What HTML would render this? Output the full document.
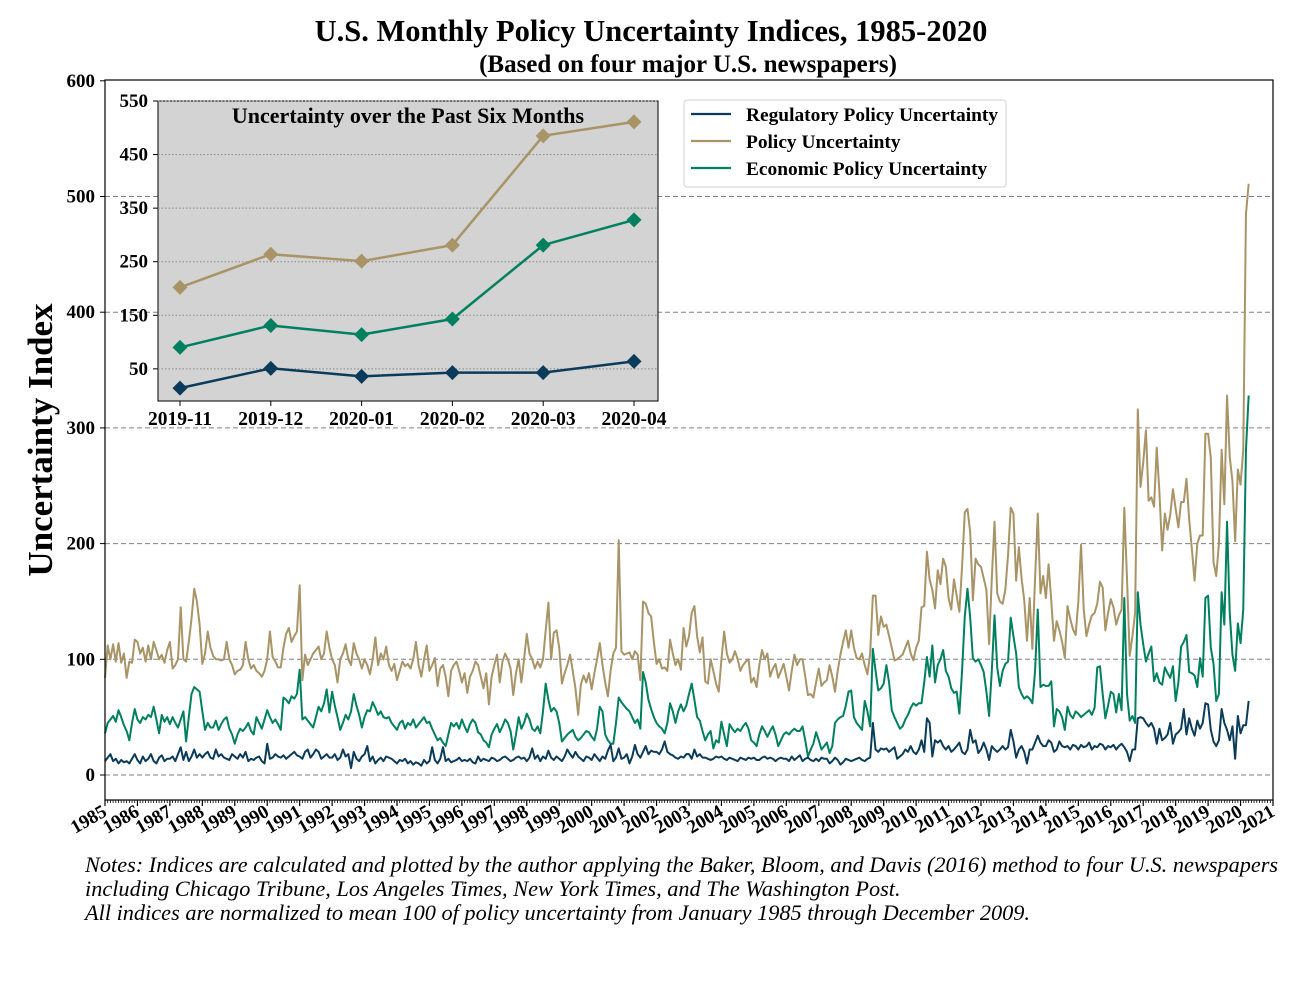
<!DOCTYPE html>
<html><head><meta charset="utf-8"><style>
html,body{margin:0;padding:0;background:#fff;}
svg{display:block;font-family:"Liberation Serif",serif;}
</style></head><body>
<svg id="chart" width="1300" height="1000" viewBox="0 0 1300 1000">
<text x="651" y="41" text-anchor="middle" font-size="30.5" font-weight="bold">U.S. Monthly Policy Uncertainty Indices, 1985-2020</text>
<text x="688" y="72" text-anchor="middle" font-size="25" font-weight="bold">(Based on four major U.S. newspapers)</text>
<g id="main"></g>
<text transform="translate(52,440) rotate(-90)" text-anchor="middle" font-size="35" font-weight="bold">Uncertainty Index</text>
<g id="inset"></g>
<g>
<rect x="684" y="100" width="322" height="87" rx="3" fill="#fff" stroke="#d0d0d0" stroke-width="1"/>
<line x1="691" y1="114" x2="731" y2="114" stroke="#0b3b5a" stroke-width="2.2"/>
<text x="746" y="121" font-size="19.4" font-weight="bold">Regulatory Policy Uncertainty</text>
<line x1="691" y1="141" x2="731" y2="141" stroke="#a89467" stroke-width="2.2"/>
<text x="746" y="148" font-size="19.4" font-weight="bold">Policy Uncertainty</text>
<line x1="691" y1="168" x2="731" y2="168" stroke="#00805f" stroke-width="2.2"/>
<text x="746" y="175" font-size="19.4" font-weight="bold">Economic Policy Uncertainty</text>
</g>
<g font-size="22.3" font-style="italic">
<text x="85" y="872">Notes: Indices are calculated and plotted by the author applying the Baker, Bloom, and Davis (2016) method to four U.S. newspapers</text>
<text x="85" y="896">including Chicago Tribune, Los Angeles Times, New York Times, and The Washington Post.</text>
<text x="85" y="920">All indices are normalized to mean 100 of policy uncertainty from January 1985 through December 2009.</text>
</g>
</svg>
<script>
const policyVals = [
84,112,100,113,98,114,97,105,84,98,97,117,
115,105,110,98,112,100,115,108,100,104,97,108,
115,92,95,100,145,100,98,115,135,161,150,130,
96,105,124,110,103,100,100,99,100,115,100,95,
87,90,91,95,115,100,92,95,90,88,85,90,
100,124,102,98,93,93,110,122,127,115,120,124,
164,82,104,95,100,105,108,111,100,105,124,110,
100,95,80,100,105,113,100,95,114,105,100,92,
100,95,87,100,119,95,105,100,111,95,90,96,
82,90,98,94,96,92,100,115,95,85,100,112,
90,95,101,77,92,95,85,68,90,95,98,90,
80,88,71,85,90,98,95,85,75,88,61,85,
95,104,80,98,105,100,92,69,88,100,80,100,
122,105,100,92,98,93,100,125,149,100,123,125,
110,79,88,95,104,90,75,52,78,86,80,88,
74,88,100,114,95,80,68,90,105,110,203,107,
104,105,106,100,107,104,82,150,148,140,137,115,
96,100,92,93,90,117,105,95,100,91,127,111,
120,140,146,120,106,119,81,79,100,90,79,72,
100,124,105,97,100,107,100,90,95,98,100,80,
84,76,95,108,100,105,85,92,96,84,90,96,
85,73,90,104,95,100,100,85,69,70,67,80,
92,77,80,82,95,85,72,90,104,115,125,110,
125,110,101,100,105,95,87,105,155,155,121,137,
128,130,120,110,99,100,102,104,110,116,105,99,
110,116,145,146,193,169,160,144,177,165,187,180,
153,143,169,155,141,180,227,230,210,151,187,182,
180,170,160,113,170,219,157,150,148,160,190,231,
226,168,197,170,151,116,153,109,170,226,157,172,
153,182,150,116,133,125,115,101,146,135,126,121,
150,199,143,120,130,138,140,148,167,162,125,140,
152,145,130,138,143,231,170,103,120,140,316,249,
270,298,237,240,232,283,244,194,226,212,225,247,
230,214,236,236,256,221,195,168,200,207,207,295,
295,274,184,172,200,281,234,328,275,254,202,264,
251,281,485,511];
const economicVals = [
36,45,48,51,46,56,50,43,38,30,45,57,
48,45,50,48,52,50,59,48,36,52,46,50,
44,50,45,41,48,55,29,50,70,76,74,72,
55,39,45,41,41,47,39,44,48,50,40,35,
27,35,40,38,41,45,38,35,50,45,40,48,
56,50,45,48,44,39,67,65,62,68,66,70,
91,48,50,47,44,41,50,59,55,62,74,54,
72,60,50,39,45,52,48,55,70,60,52,41,
50,56,55,63,58,52,55,50,49,50,45,42,
39,45,47,40,45,43,48,41,44,47,50,45,
46,40,35,30,32,28,25,35,45,42,45,40,
48,42,37,44,48,45,37,35,30,28,24,35,
40,44,37,42,48,45,38,22,35,50,40,45,
53,48,40,38,42,36,55,79,65,55,58,55,
45,29,32,35,37,39,33,30,32,35,38,37,
33,30,40,59,55,35,30,27,27,45,67,63,
60,57,55,50,45,48,40,89,80,65,57,50,
45,42,40,36,45,62,55,45,55,61,55,60,
70,79,65,50,47,38,30,35,38,23,30,28,
46,35,25,44,40,37,40,38,42,45,40,30,
28,25,35,42,38,33,38,42,35,25,30,35,
37,35,38,40,38,38,42,30,16,22,27,37,
30,22,25,28,19,25,45,48,50,51,60,72,
73,50,45,42,39,64,55,42,109,90,73,75,
79,95,80,56,50,45,40,42,48,52,58,62,
60,62,62,80,102,85,112,80,95,100,108,90,
85,75,71,72,53,90,137,161,136,101,98,100,
95,89,72,51,90,138,93,77,90,96,98,136,
120,105,76,70,66,68,66,62,90,143,76,78,
77,77,81,42,57,55,50,39,59,52,49,55,
53,50,52,54,56,52,58,93,94,70,49,60,
72,70,54,70,56,153,70,47,51,45,158,130,
113,98,105,111,81,88,80,78,93,88,84,94,
64,80,111,115,121,89,88,86,76,101,85,153,
155,110,96,64,70,158,130,219,140,104,90,131,
114,143,281,328];
const regulatoryVals = [
12,15,18,12,14,10,13,11,12,10,14,18,
13,10,16,12,14,18,12,10,15,17,12,14,
14,16,12,18,24,13,20,12,16,22,15,18,
15,18,20,15,14,22,16,18,15,14,13,18,
16,14,18,15,20,12,14,13,15,16,12,10,
27,14,15,18,16,15,17,14,16,18,20,17,
16,14,20,22,15,18,22,20,14,16,18,15,
15,18,13,15,22,16,18,6,20,14,12,16,
18,25,12,16,10,13,15,12,16,15,14,12,
10,13,12,14,10,12,9,11,10,8,13,10,
12,24,13,10,14,24,12,14,11,12,13,15,
12,13,12,14,11,10,16,12,14,13,12,15,
14,12,13,15,16,14,12,13,15,16,14,15,
12,15,23,14,17,12,16,14,21,15,13,16,
14,12,16,22,18,15,20,16,14,12,16,15,
13,18,15,12,16,14,21,26,12,15,23,14,
15,18,10,16,26,18,15,20,25,18,21,20,
20,18,22,29,20,18,17,15,14,16,15,18,
18,14,22,16,18,15,15,14,13,14,16,15,
16,14,13,15,14,13,12,15,14,13,15,14,
15,13,13,15,16,14,15,14,12,14,15,14,
14,12,16,13,15,17,12,14,15,13,12,14,
12,15,14,14,10,12,15,13,9,11,14,13,
12,13,14,15,13,12,14,15,45,22,20,23,
22,23,20,22,24,14,16,18,22,20,25,20,
18,22,30,20,49,45,16,30,28,30,25,22,
25,20,22,25,28,20,18,22,39,28,30,19,
22,28,22,13,25,22,20,22,25,22,24,39,
29,15,22,25,20,10,22,22,28,34,28,25,
25,30,28,20,22,29,25,24,25,22,26,25,
22,26,24,25,28,22,25,24,27,26,22,25,
24,26,22,25,27,24,20,12,22,22,49,50,
49,45,42,45,40,27,40,30,32,35,45,27,
35,37,40,57,35,49,40,34,47,40,45,62,
61,39,29,25,30,57,45,39,30,42,14,51,
36,43,43,64];
const yTicks = [0,100,200,300,400,500,600];
const startYear = 1985, endYear = 2021;
const insetCats = ["2019-11","2019-12","2020-01","2020-02","2020-03","2020-04"];
const insetPolicy = [202,264,251,281,485,511];
const insetEconomic = [90,131,114,143,281,328];
const insetRegulatory = [14,51,36,43,43,64];
const insetTicks = [50,150,250,350,450,550];

const NS = "http://www.w3.org/2000/svg";
function mk(tag, attrs, parent){const e=document.createElementNS(NS,tag);for(const k in attrs)e.setAttribute(k,attrs[k]);parent.appendChild(e);return e;}
const C = {reg:"#0b3b5a", pol:"#a89467", eco:"#00805f"};

const L=105,R=1273,T=80,B=800;
const nMonths=(endYear-startYear)*12;
const xM = m => L + m*(R-L)/nMonths;
const yV = v => 775 - v*1.157;
const main=document.getElementById('main');
yTicks.forEach(t=>{
  if(t<600){const g=mk('line',{x1:L,x2:R,y1:yV(t),y2:yV(t),stroke:'#808080','stroke-width':1,'stroke-dasharray':'5,3'},main);
  
  }
  mk('line',{x1:L-5,x2:L,y1:yV(t),y2:yV(t),stroke:'#000'},main);
  const tx=mk('text',{x:L-10,y:yV(t)+6,'text-anchor':'end','font-size':19,'font-weight':'bold'},main);
  tx.textContent=t;
  
  
});
function series(vals,color,name){
  const d=vals.map((v,i)=>(i?'L':'M')+xM(i).toFixed(2)+','+yV(v).toFixed(2)).join('');
  const p=mk('path',{d:d,fill:'none',stroke:color,'stroke-width':2,'stroke-linejoin':'round'},main);
  
  
}
series(economicVals,C.eco,'economic-line');
series(policyVals,C.pol,'policy-line');
series(regulatoryVals,C.reg,'regulatory-line');
mk('rect',{x:L,y:T,width:R-L,height:B-T,fill:'none',stroke:'#000','stroke-width':1.2},main);
for(let m=0;m<=nMonths;m++){
  const major=m%12===0;
  mk('line',{x1:xM(m),x2:xM(m),y1:B,y2:B+(major?6:3),stroke:'#000','stroke-width':major?1.2:0.8},main);
  if(major){
    const yr=startYear+m/12;
    const tx=mk('text',{transform:`translate(${xM(m)+3},${B+15}) rotate(-30)`,'text-anchor':'end','font-size':19,'font-weight':'bold'},main);
    tx.textContent=yr;
    
    
  }
}

const inset=document.getElementById('inset');
const iL=158,iR=658,iT=101,iB=401;
const xI = i => 180 + i*(634-180)/(insetCats.length-1);
const yI = v => 101 + (550-v)*0.5357;
mk('rect',{x:iL,y:iT,width:iR-iL,height:iB-iT,fill:'#d3d3d3',stroke:'#000','stroke-width':1},inset);
insetTicks.forEach(t=>{
  const g=mk('line',{x1:iL,x2:iR,y1:yI(t),y2:yI(t),stroke:'#888','stroke-width':1,'stroke-dasharray':'1.5,2'},inset);
  
  
  mk('line',{x1:iL-5,x2:iL,y1:yI(t),y2:yI(t),stroke:'#000'},inset);
  const tx=mk('text',{x:iL-10,y:yI(t)+6,'text-anchor':'end','font-size':19,'font-weight':'bold'},inset);
  tx.textContent=t;
  
  
});
insetCats.forEach((c,i)=>{
  mk('line',{x1:xI(i),x2:xI(i),y1:iB,y2:iB+5,stroke:'#000'},inset);
  const tx=mk('text',{x:xI(i),y:iB+24,'text-anchor':'middle','font-size':19.5,'font-weight':'bold'},inset);
  tx.textContent=c;
  
  
});
const it=mk('text',{x:408,y:123,'text-anchor':'middle','font-size':22,'font-weight':'bold'},inset);
it.textContent='Uncertainty over the Past Six Months';


function iseries(vals,color,name){
  const d=vals.map((v,i)=>(i?'L':'M')+xI(i)+','+yI(v)).join('');
  const p=mk('path',{d:d,fill:'none',stroke:color,'stroke-width':2.5},inset);
  
  
  vals.forEach((v,i)=>{
    const x=xI(i),y=yI(v),s=7.5;
    const mkr=mk('polygon',{points:`${x},${y-s} ${x+s},${y} ${x},${y+s} ${x-s},${y}`,fill:color},inset);
    
    
  });
}
iseries(insetPolicy,C.pol,'inset-policy-line');
iseries(insetEconomic,C.eco,'inset-economic-line');
iseries(insetRegulatory,C.reg,'inset-regulatory-line');
</script>
</body></html>
